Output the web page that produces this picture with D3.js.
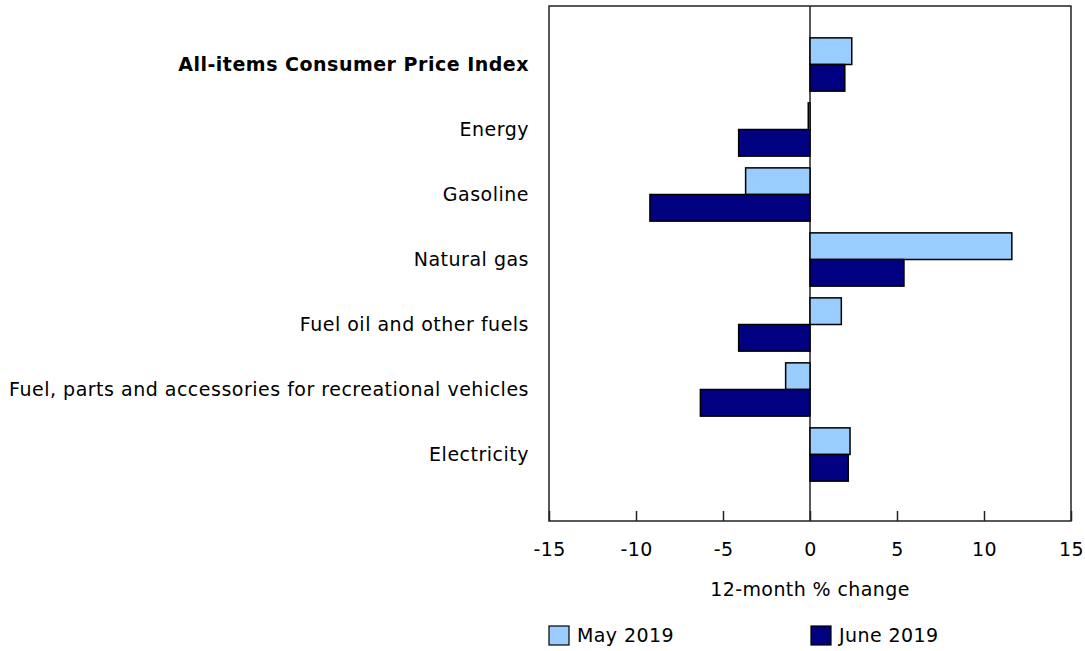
<!DOCTYPE html>
<html lang="en">
<head>
    <meta charset="UTF-8">
    <script src="https://d3js.org/d3.v7.min.js"></script>
    <title>12-month % change, CPI energy components</title>
    <style>
        body { margin: 0; background: white; }
        text { font-family: "DejaVu Sans", Verdana, sans-serif; fill: #000; letter-spacing: 0.4px; }
        text.cat { letter-spacing: 0.5px; }
    </style>
</head>
<body>
    <script type="text/javascript">

        const w = 1085;
        const h = 651;
        const fontSize = "19px";

        // data
        const categories = [
            "All-items Consumer Price Index",
            "Energy",
            "Gasoline",
            "Natural gas",
            "Fuel oil and other fuels",
            "Fuel, parts and accessories for recreational vehicles",
            "Electricity"
        ];
        const seriesNames = ["May 2019", "June 2019"];
        const may2019 = [2.4, -0.1, -3.7, 11.6, 1.8, -1.4, 2.3];
        const june2019 = [2.0, -4.1, -9.2, 5.4, -4.1, -6.3, 2.2];
        const xTicks = [-15, -10, -5, 0, 5, 10, 15];
        const colors = ["#99CCFF", "#000080"];

        const plotLeft = 549, plotRight = 1071, plotTop = 6, plotBottom = 521;

        const svg = d3.select("body")
            .append("svg")
            .attr("width", w)
            .attr("height", h);

        const xScale = d3.scaleLinear()
            .domain([-15, 15])
            .range([plotLeft, plotRight]);

        const yScale = d3.scaleBand()
            .domain(categories)
            .range([32, 487])
            .paddingInner(0)
            .paddingOuter(0);

        const inner = d3.scaleBand()
            .domain(seriesNames)
            .range([0, yScale.bandwidth()])
            .paddingInner(0)
            .paddingOuter(0.22);

        const rows = categories.map((c, i) => ({ cat: c, vals: [may2019[i], june2019[i]] }));

        // frame
        svg.append("rect")
            .attr("x", plotLeft)
            .attr("y", plotTop)
            .attr("width", plotRight - plotLeft)
            .attr("height", plotBottom - plotTop)
            .attr("fill", "none")
            .attr("stroke", "#222")
            .attr("stroke-width", 1.5);

        // zero line
        svg.append("line")
            .attr("x1", xScale(0)).attr("x2", xScale(0))
            .attr("y1", plotTop).attr("y2", plotBottom)
            .attr("stroke", "#222")
            .attr("stroke-width", 1.5);

        // bars
        const groups = svg.selectAll("g.row")
            .data(rows)
            .enter()
            .append("g")
            .attr("class", "row")
            .attr("transform", d => "translate(0," + yScale(d.cat) + ")");

        groups.selectAll("rect")
            .data(d => d.vals.map((v, j) => ({ v: v, s: seriesNames[j], j: j })))
            .enter()
            .append("rect")
            .attr("x", d => xScale(Math.min(0, d.v)))
            .attr("y", d => inner(d.s))
            .attr("width", d => Math.abs(xScale(d.v) - xScale(0)))
            .attr("height", inner.bandwidth())
            .attr("fill", d => colors[d.j])
            .attr("stroke", "#000")
            .attr("stroke-width", 1.5);

        // category labels
        svg.selectAll("text.cat")
            .data(categories)
            .enter()
            .append("text")
            .attr("class", "cat")
            .attr("x", 529)
            .attr("y", d => yScale(d) + yScale.bandwidth() / 2)
            .attr("dy", "0.35em")
            .attr("text-anchor", "end")
            .style("font-size", fontSize)
            .style("font-weight", (d, i) => i === 0 ? "bold" : "normal")
            .text(d => d);

        // x axis
        const xAxis = d3.axisBottom(xScale)
            .tickValues(xTicks)
            .tickFormat(d => String(d))
            .tickSize(-10)
            .tickPadding(22);

        const gx = svg.append("g")
            .attr("transform", "translate(0," + plotBottom + ")")
            .call(xAxis);
        gx.select(".domain").remove();
        gx.selectAll(".tick line").attr("stroke", "#222").attr("stroke-width", 1.5);
        gx.selectAll(".tick text")
            .style("font-size", fontSize)
            .style("font-family", "'DejaVu Sans', Verdana, sans-serif")
            .attr("fill", "#000");

        // axis title
        svg.append("text")
            .attr("x", xScale(0))
            .attr("y", 596)
            .attr("text-anchor", "middle")
            .style("font-size", fontSize)
            .text("12-month % change");

        // legend
        const legend = svg.append("g").attr("class", "legend");
        const legendX = [549, 811];
        seriesNames.forEach((s, i) => {
            legend.append("rect")
                .attr("x", legendX[i])
                .attr("y", 626)
                .attr("width", 20)
                .attr("height", 19)
                .attr("fill", colors[i])
                .attr("stroke", "#000")
                .attr("stroke-width", 1.2);
            legend.append("text")
                .attr("x", legendX[i] + 28)
                .attr("y", 642)
                .style("font-size", fontSize)
                .text(s);
        });

    </script>
</body>
</html>
